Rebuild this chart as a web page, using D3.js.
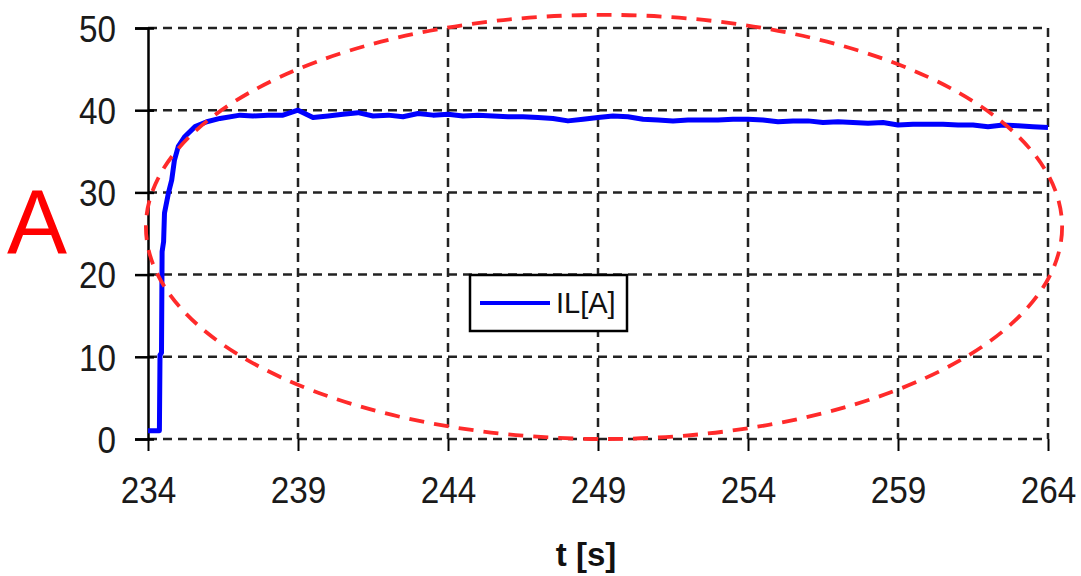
<!DOCTYPE html>
<html><head><meta charset="utf-8">
<script src="https://cdn.jsdelivr.net/npm/d3@7"></script>
<style>body{margin:0;background:#fff}svg{display:block}</style>
</head><body>
<svg id="c" width="1081" height="576"></svg>
<script>
// ---- data ----
const times = [234.0,234.38,234.4,234.45,234.47,234.52,234.55,234.68,234.79,234.88,235.01,235.23,235.57,235.96,236.4,237.07,
  237.5,238.0,238.5,239.0,239.5,240.0,240.5,241.0,241.5,242.0,242.5,243.0,243.5,244.0,244.5,245.0,245.5,246.0,246.5,247.0,247.5,
  248.0,248.5,249.0,249.5,250.0,250.5,251.0,251.5,252.0,252.5,253.0,253.5,254.0,254.5,255.0,255.5,256.0,256.5,257.0,257.5,258.0,
  258.5,259.0,259.5,260.0,260.5,261.0,261.5,262.0,262.5,263.0,263.5,264.0];
const current = [1.0,1.0,10.2,10.5,22.8,24.0,27.5,29.9,31.5,33.9,35.6,36.8,38.0,38.6,39.0,39.4,
  39.3,39.4,39.4,40.0,39.1,39.3,39.5,39.7,39.3,39.4,39.2,39.6,39.4,39.5,39.3,39.4,39.3,39.2,39.2,39.1,39.0,
  38.7,38.9,39.1,39.3,39.2,38.9,38.8,38.7,38.8,38.8,38.8,38.9,38.9,38.8,38.6,38.7,38.7,38.5,38.6,38.5,38.4,
  38.5,38.2,38.3,38.3,38.3,38.2,38.2,38.0,38.2,38.1,38.0,37.9];
const xTicks = [234,239,244,249,254,259,264];
const yTicks = [0,10,20,30,40,50];
const seriesName = "IL[A]";
const xTitle = "t [s]";
const unitLabel = "A";
// annotation ellipse in data units: [centerT, centerV, radiusT, radiusV]
const ellipseAnno = [249.2, 25.8, 15.27, 25.8];

// ---- chart ----
const svg = d3.select("#c");
const x = d3.scaleLinear().domain([234,264]).range([148,1048]);
const y = d3.scaleLinear().domain([0,50]).range([439,28]);
const gridCol = "#222";

// horizontal gridlines
svg.append("g").selectAll("line").data(yTicks).join("line")
  .attr("x1", x(234)).attr("x2", x(264))
  .attr("y1", d=>y(d)).attr("y2", d=>y(d))
  .attr("stroke", gridCol).attr("stroke-width", 2.5).attr("stroke-dasharray","9,6");
// vertical gridlines
svg.append("g").selectAll("line").data(xTicks.slice(1)).join("line")
  .attr("x1", d=>x(d)).attr("x2", d=>x(d))
  .attr("y1", y(50)).attr("y2", y(0))
  .attr("stroke", gridCol).attr("stroke-width", 2.5).attr("stroke-dasharray","9,6");

// y axis
const yAxis = d3.axisLeft(y).tickValues(yTicks).tickSize(13).tickPadding(18).tickFormat(d3.format("d"));
const ga = svg.append("g").attr("transform",`translate(${x(234)},0)`).call(yAxis);
ga.select(".domain").attr("stroke","#000").attr("stroke-width",2.5);
ga.selectAll(".tick line").attr("stroke","#000").attr("stroke-width",2.5);
ga.selectAll(".tick").append("line").attr("x1",0).attr("x2",6).attr("stroke","#000").attr("stroke-width",2.5);
ga.selectAll("text").attr("font-family","Liberation Sans, Arial, sans-serif").attr("font-size",37)
  .attr("fill","#1a1a1a").attr("textLength", d=>String(d).length*18.5).attr("lengthAdjust","spacingAndGlyphs")
  .attr("x",-32).attr("dy","0.36em");

// x axis
const xAxis = d3.axisBottom(x).tickValues(xTicks).tickSize(12).tickPadding(26).tickFormat(d3.format("d"));
const gx = svg.append("g").attr("transform",`translate(0,${y(0)})`).call(xAxis);
gx.select(".domain").remove();
gx.selectAll(".tick line").attr("stroke","#000").attr("stroke-width",2);
gx.selectAll("text").attr("font-family","Liberation Sans, Arial, sans-serif").attr("font-size",37)
  .attr("fill","#1a1a1a").attr("textLength", d=>String(d).length*18.5).attr("lengthAdjust","spacingAndGlyphs")
  .attr("dy","0.71em");

// x title
svg.append("text").attr("x", x(249)-12).attr("y", 566).attr("text-anchor","middle")
  .attr("font-family","Liberation Sans, Arial, sans-serif").attr("font-weight","bold").attr("font-size",33)
  .attr("fill","#111").text(xTitle);

// unit label
svg.append("text").attr("x", 7).attr("y", 253)
  .attr("font-family","Liberation Sans, Arial, sans-serif").attr("font-size",90)
  .attr("fill","#ff0000").text(unitLabel);

// data line
const pts = times.map((t,i)=>[t,current[i]]);
svg.append("path").datum(pts)
  .attr("d", d3.line().x(d=>x(d[0])).y(d=>y(d[1])))
  .attr("fill","none").attr("stroke","#0000ff").attr("stroke-width",5).attr("stroke-linejoin","round");

// legend
const lg = svg.append("g");
lg.append("rect").attr("x",470).attr("y",275).attr("width",157).attr("height",56)
  .attr("fill","#fff").attr("stroke","#000").attr("stroke-width",2.5);
lg.append("line").attr("x1",480).attr("x2",550).attr("y1",303).attr("y2",303)
  .attr("stroke","#0000ff").attr("stroke-width",4);
lg.append("text").attr("x",556).attr("y",313)
  .attr("font-family","Liberation Sans, Arial, sans-serif").attr("font-size",29)
  .attr("fill","#111").text(seriesName);

// annotation ellipse
const [ct, cv, rt, rv] = ellipseAnno;
svg.append("ellipse")
  .attr("cx", x(ct)).attr("cy", y(cv))
  .attr("rx", x(ct+rt)-x(ct)).attr("ry", y(cv)-y(cv+rv))
  .attr("fill","none").attr("stroke","#ff2a2a").attr("stroke-width",3.8).attr("stroke-dasharray","15,10");
</script>
</body></html>
